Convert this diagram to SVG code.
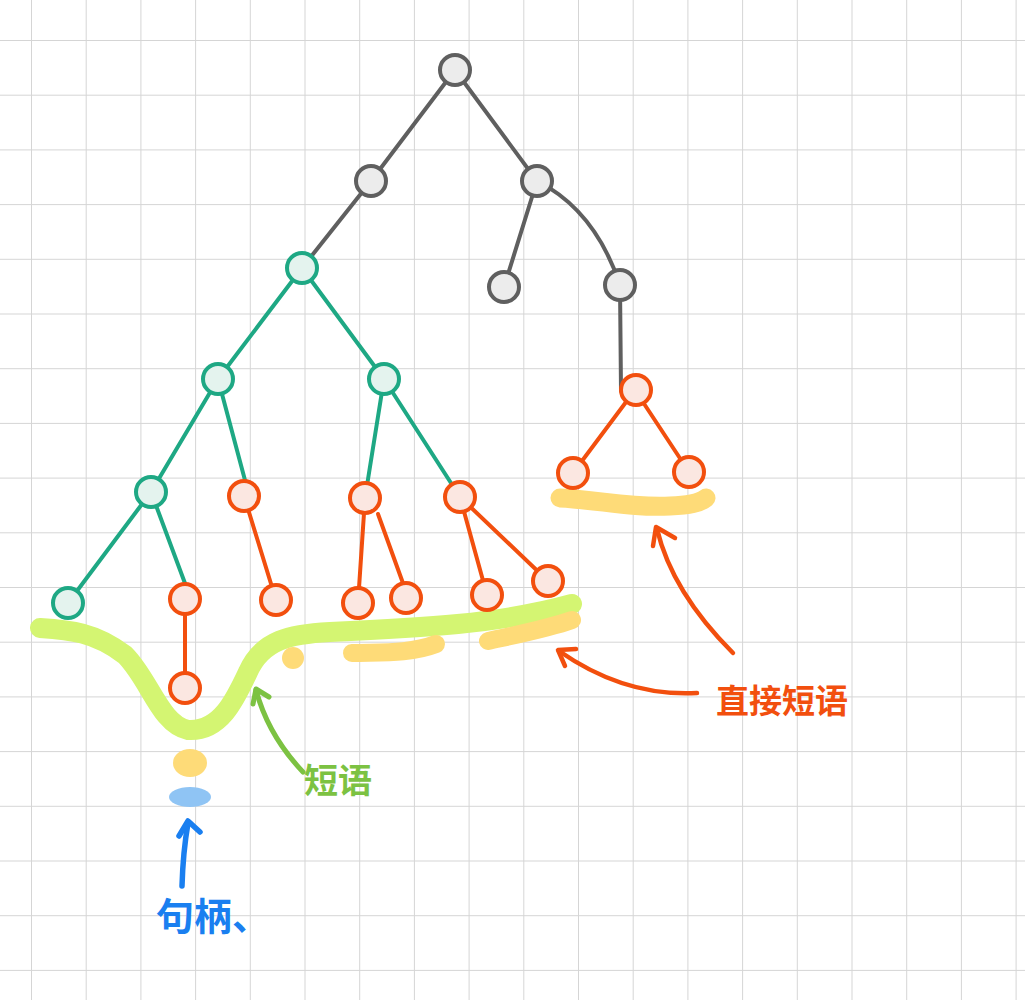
<svg xmlns="http://www.w3.org/2000/svg" width="1025" height="1000" viewBox="0 0 1025 1000">
<defs>
<pattern id="grid" x="31" y="40" width="54.7" height="54.7" patternUnits="userSpaceOnUse">
<path d="M0,0 V54.7 M0,0 H54.7" fill="none" stroke="#d5d5d5" stroke-width="2"/>
</pattern>
<style>
.g{fill:#ececec;stroke:#5f5f5f;stroke-width:4}
.t{fill:#e4f3ee;stroke:#1ea884;stroke-width:4}
.o{fill:#fbe7e1;stroke:#f24f0e;stroke-width:4}
.eg{stroke:#5f5f5f;stroke-width:4;fill:none;stroke-linecap:round}
.et{stroke:#1ea884;stroke-width:4;fill:none;stroke-linecap:round}
.eo{stroke:#f24f0e;stroke-width:4;fill:none;stroke-linecap:round}
.hl{fill:none;stroke-linecap:round;stroke-linejoin:round}
.hw{font-family:"Noto Sans CJK SC","Noto Sans CJK JP",sans-serif;font-weight:bold}
</style>
</defs>
<rect width="1025" height="1000" fill="#ffffff"/>
<rect width="1025" height="1000" fill="url(#grid)"/>

<g id="highlights">
<path class="hl" d="M40,628 C70,630 95,632 125,655 C150,680 160,724 188,730 C220,732 235,700 248,672 C262,640 290,634 330,632 C420,628 500,624 572,604" stroke="#d4f572" stroke-width="20"/>
<path class="hl" d="M560,498 C600,500 630,508 670,506 C690,505 700,503 706,498" stroke="#fedb78" stroke-width="19"/>
<circle cx="293" cy="658" r="11" fill="#fedb78"/>
<path class="hl" d="M352,653 C380,652 410,654 436,644" stroke="#fedb78" stroke-width="18"/>
<path class="hl" d="M488,641 C520,634 550,628 572,620" stroke="#fedb78" stroke-width="18"/>
<ellipse cx="190" cy="763" rx="17" ry="14" fill="#fedb78"/>
<ellipse cx="190" cy="797" rx="21" ry="10" fill="#8fc4f4"/>
</g>

<g id="connectors">
<line class="eg" x1="455" y1="70" x2="371" y2="181"/>
<line class="eg" x1="455" y1="70" x2="537" y2="181"/>
<line class="eg" x1="371" y1="181" x2="302" y2="268"/>
<line class="eg" x1="537" y1="181" x2="504" y2="287"/>
<path class="eg" d="M537,181 Q595,210 620,285"/>
<line class="eg" x1="620" y1="285" x2="621" y2="391"/>
<line class="et" x1="302" y1="268" x2="218" y2="379"/>
<line class="et" x1="302" y1="268" x2="384" y2="379"/>
<line class="et" x1="218" y1="379" x2="151" y2="492"/>
<line class="et" x1="218" y1="379" x2="246" y2="484"/>
<line class="et" x1="384" y1="379" x2="365" y2="498"/>
<line class="et" x1="384" y1="379" x2="460" y2="497"/>
<line class="et" x1="151" y1="492" x2="68" y2="603"/>
<line class="et" x1="151" y1="492" x2="186" y2="586"/>
<line class="eo" x1="244" y1="496" x2="276" y2="600"/>
<line class="eo" x1="185" y1="599" x2="185" y2="688"/>
<line class="eo" x1="365" y1="498" x2="358" y2="603"/>
<line class="eo" x1="378" y1="514" x2="404" y2="586"/>
<line class="eo" x1="460" y1="497" x2="487" y2="595"/>
<line class="eo" x1="460" y1="497" x2="548" y2="581"/>
<line class="eo" x1="635" y1="390" x2="573" y2="473"/>
<line class="eo" x1="635" y1="390" x2="689" y2="472"/>
</g>

<g id="n-g1"><circle class="g" cx="455" cy="70" r="15"/></g>
<g id="n-g2"><circle class="g" cx="371" cy="181" r="15"/></g>
<g id="n-g3"><circle class="g" cx="537" cy="181" r="15"/></g>
<g id="n-g4"><circle class="g" cx="504" cy="287" r="15"/></g>
<g id="n-g5"><circle class="g" cx="620" cy="285" r="15"/></g>
<g id="n-t1"><circle class="t" cx="302" cy="268" r="15"/></g>
<g id="n-t2"><circle class="t" cx="218" cy="379" r="15"/></g>
<g id="n-t3"><circle class="t" cx="384" cy="379" r="15"/></g>
<g id="n-t4"><circle class="t" cx="151" cy="492" r="15"/></g>
<g id="n-t5"><circle class="t" cx="68" cy="603" r="15"/></g>
<g id="n-o1"><circle class="o" cx="244" cy="496" r="15"/></g>
<g id="n-o2"><circle class="o" cx="185" cy="599" r="15"/></g>
<g id="n-o3"><circle class="o" cx="276" cy="600" r="15"/></g>
<g id="n-o4"><circle class="o" cx="185" cy="688" r="15"/></g>
<g id="n-o5"><circle class="o" cx="365" cy="498" r="15"/></g>
<g id="n-o6"><circle class="o" cx="460" cy="497" r="15"/></g>
<g id="n-o7"><circle class="o" cx="358" cy="603" r="15"/></g>
<g id="n-o8"><circle class="o" cx="406" cy="598" r="15"/></g>
<g id="n-o9"><circle class="o" cx="487" cy="595" r="15"/></g>
<g id="n-o10"><circle class="o" cx="548" cy="581" r="15"/></g>
<g id="n-o11"><circle class="o" cx="636" cy="390" r="15"/></g>
<g id="n-o12"><circle class="o" cx="573" cy="473" r="15"/></g>
<g id="n-o13"><circle class="o" cx="689" cy="472" r="15"/></g>

<g id="annotations">
<path d="M303,772 Q268,735 256,690" fill="none" stroke="#7cc242" stroke-width="5" stroke-linecap="round"/>
<path d="M253,704 L256,689 L269,697" fill="none" stroke="#7cc242" stroke-width="5" stroke-linecap="round" stroke-linejoin="round"/>
<path d="M733,653 Q672,592 657,529" fill="none" stroke="#f24f0e" stroke-width="4.5" stroke-linecap="round"/>
<path d="M653,546 L656,527 L675,538" fill="none" stroke="#f24f0e" stroke-width="4.5" stroke-linecap="round" stroke-linejoin="round"/>
<path d="M697,693 Q625,697 559,651" fill="none" stroke="#f24f0e" stroke-width="4.5" stroke-linecap="round"/>
<path d="M565,666 L558,650 L576,649" fill="none" stroke="#f24f0e" stroke-width="4.5" stroke-linecap="round" stroke-linejoin="round"/>
<path d="M182,886 Q183,852 188,823" fill="none" stroke="#1a7ff0" stroke-width="5.5" stroke-linecap="round"/>
<path d="M179,836 L188,821 L200,832" fill="none" stroke="#1a7ff0" stroke-width="5.5" stroke-linecap="round" stroke-linejoin="round"/>
<text class="hw" x="716" y="713" font-size="33" fill="#f24f0e">直接短语</text>
<text class="hw" x="304" y="793" font-size="34" fill="#7cc242">短语</text>
<text class="hw" x="156" y="930" font-size="38" fill="#1a7ff0">句柄、</text>
</g>
</svg>
